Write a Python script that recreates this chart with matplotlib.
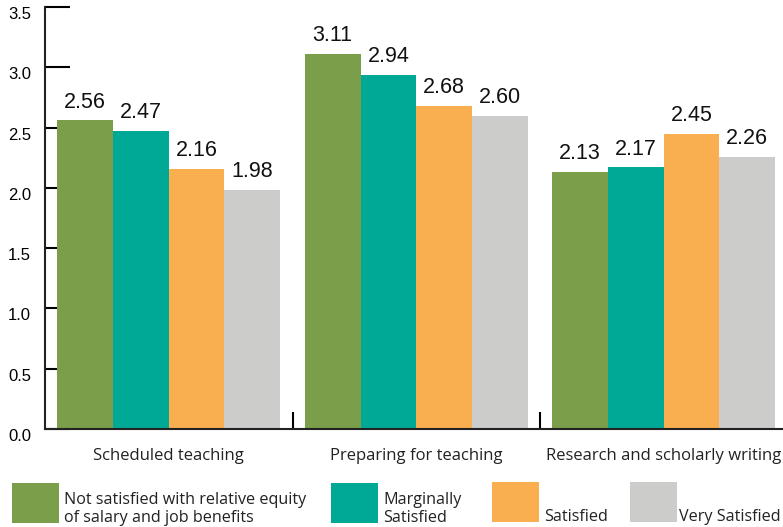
import matplotlib.pyplot as plt
import matplotlib.transforms as mtransforms
from matplotlib.patches import Rectangle
import numpy as np

# data
categories = ["Scheduled teaching", "Preparing for teaching", "Research and scholarly writing"]
series_names = ["Not satisfied with relative equity\nof salary and job benefits",
                "Marginally\nSatisfied", "Satisfied", "Very Satisfied"]
not_satisfied = [2.56, 3.11, 2.13]
marginally = [2.47, 2.94, 2.17]
satisfied = [2.16, 2.68, 2.45]
very_satisfied = [1.98, 2.60, 2.26]
colors = ["#7a9e4a", "#00a896", "#f9ae4f", "#cccccb"]

W, H = 783, 527
fig = plt.figure(figsize=(W / 100, H / 100), dpi=100)
# axes box in pixels: left 45, top 7, bottom 429, right ~787
ax = fig.add_axes([45 / W, 1 - 429 / H, (787.5 - 45) / W, (429 - 7) / H])

x = np.arange(len(categories))
bw = 0.225
allvals = [not_satisfied, marginally, satisfied, very_satisfied]
for i, vals in enumerate(allvals):
    pos = x + (i - 1.5) * bw
    bars = ax.bar(pos, vals, width=bw, color=colors[i], linewidth=0)
    for b, v in zip(bars, vals):
        ax.text(b.get_x() + b.get_width() / 2, v + 0.065, f"{v:.2f}",
                ha="center", va="bottom", fontsize=15.5,
                family="Liberation Sans", color="#111111")

ax.set_xlim(-0.5, 2.5)
ax.set_ylim(0, 3.5)
ax.set_yticks(np.arange(0, 3.51, 0.5))
ax.set_yticklabels([f"{t:.1f}" for t in np.arange(0, 3.51, 0.5)],
                   family="Liberation Sans", fontsize=12)
ax.tick_params(axis="y", direction="in", length=18, width=1.5, pad=10)
offset = mtransforms.ScaledTranslation(0, -6 / 100, fig.dpi_scale_trans)
for lab in ax.get_yticklabels():
    lab.set_transform(lab.get_transform() + offset)

# group separators as inward ticks on the x axis
ax.set_xticks([0.5, 1.5])
ax.set_xticklabels([])
ax.tick_params(axis="x", direction="in", length=12, width=1.5)
for xi, c in zip(x, categories):
    ax.text(xi, -0.225, c, ha="center", va="center", fontsize=12,
            family="Open Sans", color="#222222")

ax.set_axisbelow(True)
for s in ["top", "right"]:
    ax.spines[s].set_visible(False)
for s in ["left", "bottom"]:
    ax.spines[s].set_linewidth(1.5)
    ax.spines[s].set_color("#222222")

# legend drawn by hand
def px(xp, yp):
    return xp / W, 1 - yp / H

legend_boxes = [(12, 483), (331, 483), (492, 482), (630, 482)]
text_gap = [52, 52, 52, 49]
for (bx, by), gap, c, name in zip(legend_boxes, text_gap, colors, series_names):
    fx, fy = px(bx, by + 40)
    fig.add_artist(Rectangle((fx, fy), 47 / W, 40 / H, color=c,
                             transform=fig.transFigure, linewidth=0))
    tx, ty = px(bx + gap, by + 43)
    fig.text(tx, ty, name, ha="left", va="bottom", fontsize=11.6,
             family="Open Sans", color="#222222", linespacing=1.2)

fig.savefig("out.png", dpi=100)
